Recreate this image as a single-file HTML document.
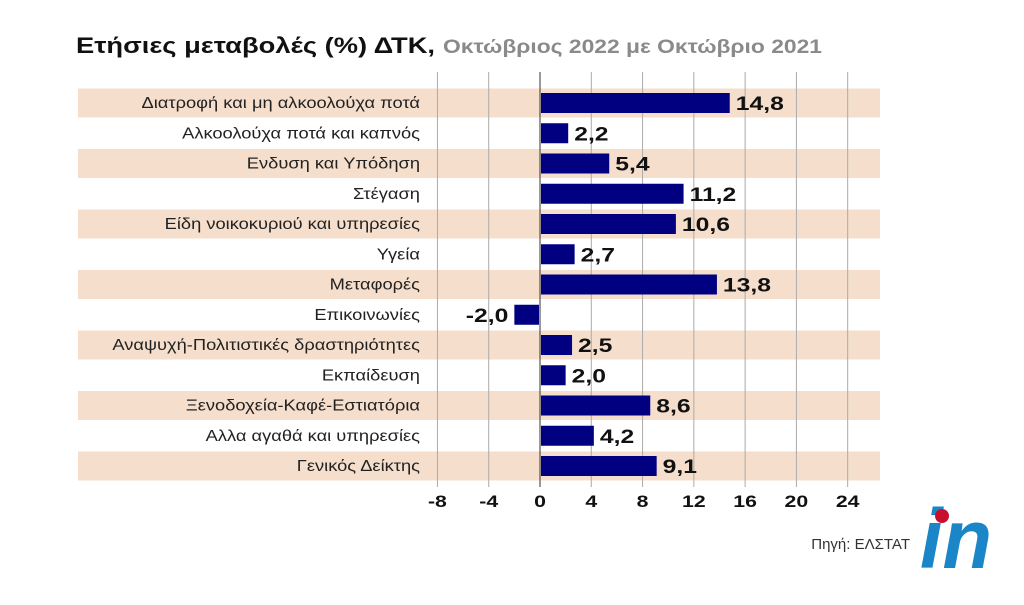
<!DOCTYPE html>
<html><head><meta charset="utf-8"><style>
body{margin:0;width:1024px;height:600px;background:#fff;overflow:hidden;font-family:"Liberation Sans",sans-serif}
</style></head><body>
<svg width="1024" height="600" id="svg">
<text x="76" y="53" font-size="22" font-weight="bold" fill="#111" textLength="359" lengthAdjust="spacingAndGlyphs">Ετήσιες μεταβολές (%) ΔΤΚ,</text>
<text x="443" y="53" font-size="19" font-weight="bold" fill="#8a8a8a" textLength="379" lengthAdjust="spacingAndGlyphs">Οκτώβριος 2022 με Οκτώβριο 2021</text>
<g id="bands"></g><g id="grid"></g><g id="bars"></g><g id="labels"></g><g id="ticks"></g>
<text x="910" y="549" font-size="15" text-anchor="end" fill="#333">Πηγή: ΕΛΣΤΑΤ</text>
<text x="920" y="568" font-size="84" font-weight="bold" font-style="italic" fill="#1a86c8" textLength="72" lengthAdjust="spacingAndGlyphs">in</text>
<circle cx="942" cy="516" r="7" fill="#c8102e"/>
</svg>
<script>
const categories=["Διατροφή και μη αλκοολούχα ποτά","Αλκοολούχα ποτά και καπνός","Ενδυση και Υπόδηση","Στέγαση","Είδη νοικοκυριού και υπηρεσίες","Υγεία","Μεταφορές","Επικοινωνίες","Αναψυχή-Πολιτιστικές δραστηριότητες","Εκπαίδευση","Ξενοδοχεία-Καφέ-Εστιατόρια","Αλλα αγαθά και υπηρεσίες","Γενικός Δείκτης"];
const values=[14.8,2.2,5.4,11.2,10.6,2.7,13.8,-2.0,2.5,2.0,8.6,4.2,9.1];
const valueLabels=["14,8","2,2","5,4","11,2","10,6","2,7","13,8","-2,0","2,5","2,0","8,6","4,2","9,1"];
const ticks=[-8,-4,0,4,8,12,16,20,24];
const NS="http://www.w3.org/2000/svg";
const x=v=>540+v*12.82;
const rowY=i=>103+i*30.25;
function mk(p,t,a){const e=document.createElementNS(NS,t);for(const k in a)e.setAttribute(k,a[k]);document.getElementById(p).appendChild(e);return e;}
function widen(t,f){const l=t.getComputedTextLength();t.setAttribute('textLength',l*f);t.setAttribute('lengthAdjust','spacingAndGlyphs');}
categories.forEach((c,i)=>{
 if(i%2==0){const b=mk('bands','rect',{x:78,y:rowY(i)-14.5,width:802,height:29,fill:'#f5dfcc'});
 
 }
 const t=mk('labels','text',{x:420,y:rowY(i)+5,'font-size':15.5,'text-anchor':'end',fill:'#222'});t.textContent=c;
 
 
 widen(t,1.18);
});
ticks.forEach(v=>{
 const l=mk('grid','line',{x1:x(v),x2:x(v),y1:72,y2:487,stroke:v==0?'#333':'#aaa','stroke-width':1});
 
 
 const t=mk('ticks','text',{x:x(v),y:507,'font-size':17,'font-weight':'bold','text-anchor':'middle',fill:'#111'});t.textContent=v;
 
 
 widen(t,1.25);
});
values.forEach((v,i)=>{
 const x0=Math.min(x(0)+1,x(v)),w=Math.abs(x(v)-x(0))-1;
 const r=mk('bars','rect',{x:x0,y:rowY(i)-10,width:w,height:20,fill:'#000080'});
 
 
 const neg=v<0;
 const t=mk('bars','text',{x:neg?x(v)-6:x(v)+6,y:rowY(i)+7,'font-size':19,'font-weight':'bold','text-anchor':neg?'end':'start',fill:'#111'});t.textContent=valueLabels[i];
 
 
 widen(t,1.3);
});
</script>
</body></html>
